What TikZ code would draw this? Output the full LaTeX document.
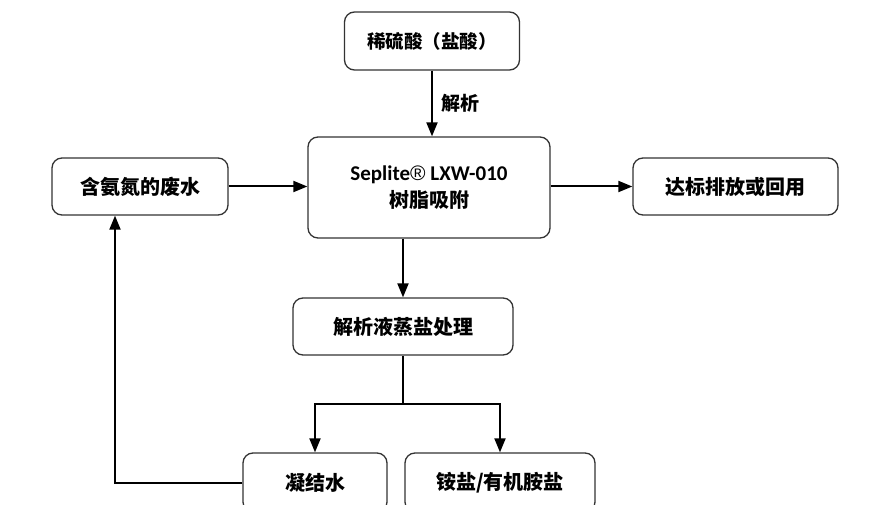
\documentclass[tikz,border=0pt]{standalone}
\usepackage{fontspec}
\setmainfont{Carlito}
\newfontfamily\cjk{Noto Sans CJK SC}
\newfontfamily\regfont{Liberation Sans}
\usetikzlibrary{arrows.meta}
\begin{document}
\begin{tikzpicture}[x=1pt,y=-1pt,
  box/.style={draw=black!80, line width=1.3pt, rounded corners=10pt, fill=white, align=center, inner sep=0pt},
  conn/.style={line width=2pt, -{Triangle[length=14pt,width=11pt]}},
  plain/.style={line width=2pt},
  cjkt/.style={font=\cjk\bfseries\fontsize{20}{24}\selectfont}]
\useasboundingbox (0,0) rectangle (873,505);
\clip (0,0) rectangle (873,505);
\node[box, font=\cjk\bfseries\fontsize{18.5}{22}\selectfont, minimum width=175pt, minimum height=58pt] (top) at (432,41) {稀硫酸（盐酸）};
\node[box, minimum width=242pt, minimum height=101pt] (sep) at (429,187.5)
  {{\bfseries\fontsize{21}{24}\selectfont Seplite{\regfont\mdseries ®} LXW-010}\\[6pt]{\cjk\bfseries\fontsize{20}{24}\selectfont 树脂吸附}};
\node[box, cjkt, minimum width=176pt, minimum height=57pt] (left) at (140,186.5) {含氨氮的废水};
\node[box, cjkt, minimum width=205pt, minimum height=57pt] (right) at (735.5,186.5) {达标排放或回用};
\node[box, cjkt, minimum width=220pt, minimum height=57pt] (proc) at (403,326.5) {解析液蒸盐处理};
\node[box, cjkt, minimum width=144pt, minimum height=59pt] (cond) at (315,482.5) {凝结水};
\node[box, cjkt, minimum width=190pt, minimum height=59pt] (salt) at (500,482.5) {铵盐/有机胺盐};
\draw[conn] (top.south) -- (top.south |- sep.north) node[midway, right=5pt, font=\cjk\bfseries\fontsize{19}{22}\selectfont] {解析};
\draw[conn] (left.east) -- (left.east -| sep.west);
\draw[conn] (sep.east |- right.west) -- (right.west);
\draw[conn] (sep.south -| proc.north) -- (proc.north);
\draw[plain] (proc.south) -- ++(0,48) coordinate (j);
\draw[conn] (j) -| (cond.north);
\draw[conn] (j) -| (salt.north);
\draw[conn] (cond.west) -| ([xshift=-25pt]left.south);
\end{tikzpicture}
\end{document}
